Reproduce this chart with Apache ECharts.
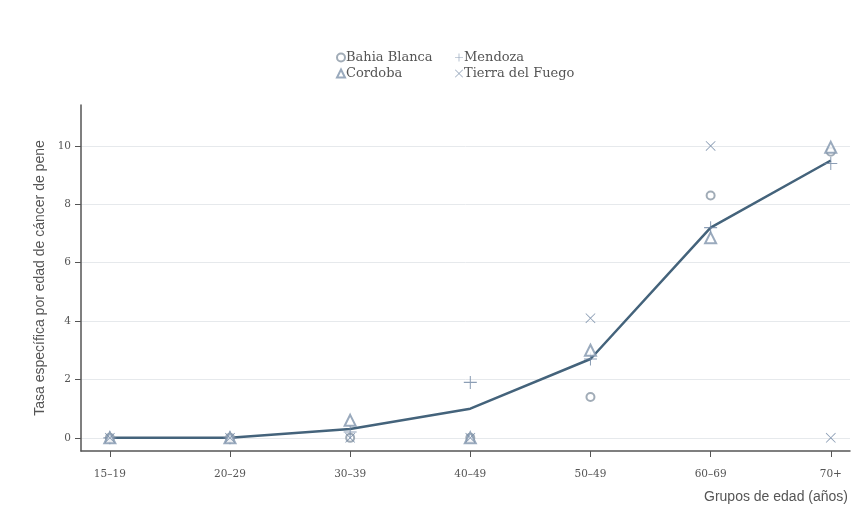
<!DOCTYPE html>
<html>
<head>
<meta charset="utf-8">
<script src="https://cdn.jsdelivr.net/npm/echarts@6/dist/echarts.min.js"></script>
<style>
  html, body { margin: 0; padding: 0; background: #fff; }
  #chart { width: 866px; height: 511px; }
</style>
</head>
<body>
<div id="chart"></div>
<script>
// grupos de edad
const categories = ["15–19", "20–29", "30–39", "40–49", "50–49", "60–69", "70+"];
// tasas por provincia
const bahiaBlanca = [0, 0, 0, 0, 1.4, 8.3, 9.8];
const mendoza = [0, 0, 0.2, 1.9, 2.7, 7.2, 9.4];
const cordoba = [0, 0, 0.6, 0, 3.0, 6.85, 9.95];
const tierraDelFuego = [0, 0, 0, 0, 4.1, 10, 0];
// promedio (linea)
const promedio = [0, 0, 0.3, 1.0, 2.7, 7.2, 9.5];
const yTicks = [0, 2, 4, 6, 8, 10];

const toPoints = (arr) => arr.map((v, i) => [i, v]);
const plusPath = "path://M9.2,0H10.8V9.2H20V10.8H10.8V20H9.2V10.8H0V9.2H9.2Z";
const crossPath = "path://M0,1.1L1.1,0L10,8.9L18.9,0L20,1.1L11.1,10L20,18.9L18.9,20L10,11.1L1.1,20L0,18.9L8.9,10Z";
const serif = "DejaVu Serif";
const sans = "Liberation Sans";
const markColor = "#6f86a2";

const chart = echarts.init(document.getElementById("chart"));

const legendStyle = {
  orient: "vertical",
  top: 46,
  itemGap: 3,
  itemWidth: 8,
  itemHeight: 8,
  textStyle: { fontFamily: serif, fontSize: 13, color: "#555", padding: [0, 0, 0, -4] },
};

const option = {
  backgroundColor: "#fff",
  animation: false,
  grid: { left: 81, right: 16, top: 105, bottom: 60, outerBoundsMode: "none" },
  legend: [
    Object.assign({ data: ["Bahia Blanca", "Cordoba"], left: 331 }, legendStyle),
    Object.assign({ data: ["Mendoza", "Tierra del Fuego"], left: 450 }, legendStyle),
  ],
  xAxis: {
    type: "value",
    min: -0.24,
    max: 6.16,
    name: "Grupos de edad (años)",
    nameLocation: "end",
    nameGap: -2,
    nameTextStyle: {
      fontFamily: sans,
      fontSize: 14,
      color: "#555",
      align: "right",
      verticalAlign: "top",
      padding: [39, 0, 0, 0],
    },
    axisLine: { onZero: false, lineStyle: { color: "#555", width: 1.5 } },
    axisTick: { customValues: [0, 1, 2, 3, 4, 5, 6], length: 6, lineStyle: { color: "#555" } },
    axisLabel: {
      customValues: [0, 1, 2, 3, 4, 5, 6],
      formatter: (v) => categories[Math.round(v)],
      fontFamily: serif,
      fontSize: 10.5,
      color: "#555",
      margin: 18,
    },
    splitLine: { show: false },
  },
  yAxis: {
    type: "value",
    min: -0.45,
    max: 11.4,
    name: "Tasa específica por edad de cáncer de pene",
    nameLocation: "middle",
    nameGap: 34,
    nameTextStyle: { fontFamily: sans, fontSize: 14, color: "#555" },
    axisLine: { show: true, onZero: false, lineStyle: { color: "#555", width: 1.5 } },
    axisTick: { show: true, customValues: yTicks, length: 6, lineStyle: { color: "#555" } },
    axisLabel: { customValues: yTicks, fontFamily: serif, fontSize: 10.5, color: "#555", margin: 10 },
    splitLine: { show: true, lineStyle: { color: "#e6e9ec", width: 1 } },
  },
  series: [
    {
      name: "promedio",
      type: "line",
      data: toPoints(promedio),
      symbol: "none",
      lineStyle: { color: "#44637b", width: 2.5 },
      z: 3,
    },
    {
      name: "Bahia Blanca",
      type: "scatter",
      data: toPoints(bahiaBlanca),
      symbol: "emptyCircle",
      symbolSize: 8,
      itemStyle: { color: "#8a97a5", borderWidth: 1 },
      z: 4,
    },
    {
      name: "Mendoza",
      type: "scatter",
      data: toPoints(mendoza),
      symbol: plusPath,
      symbolSize: 13,
      itemStyle: { color: markColor },
      z: 4,
    },
    {
      name: "Cordoba",
      type: "scatter",
      data: toPoints(cordoba),
      symbol: "emptyTriangle",
      symbolSize: 11,
      itemStyle: { color: "#8195ad", borderWidth: 1 },
      z: 4,
    },
    {
      name: "Tierra del Fuego",
      type: "scatter",
      data: toPoints(tierraDelFuego),
      symbol: crossPath,
      symbolSize: 10,
      itemStyle: { color: markColor },
      z: 4,
    },
  ],
};

chart.setOption(option);
</script>
</body>
</html>
